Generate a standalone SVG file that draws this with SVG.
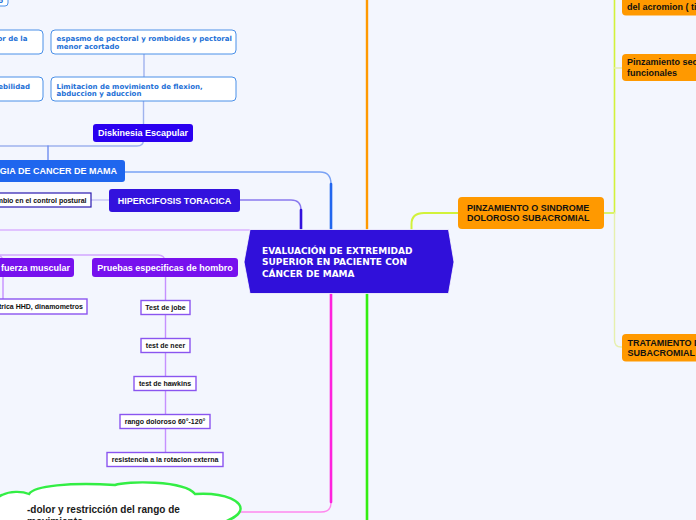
<svg xmlns="http://www.w3.org/2000/svg" width="696" height="520" viewBox="0 0 696 520">
<style>
.wt{font-family:"Liberation Sans",Arial,sans-serif;font-weight:bold;font-size:9px;fill:#ffffff}
.bt{font-family:"Liberation Sans",Arial,sans-serif;font-weight:bold;font-size:7px;fill:#111111}
.ot{font-family:"Liberation Sans",Arial,sans-serif;font-weight:bold;font-size:9px;fill:#111111}
.blt{font-family:"DejaVu Sans",Verdana,sans-serif;font-weight:bold;font-size:7px;fill:#1c6fd6}
.ct{font-family:"DejaVu Sans",Verdana,sans-serif;font-weight:bold;font-size:9px;fill:#ffffff}
.blbox{fill:#ffffff;stroke:#4a90e8;stroke-width:1}
.pbox{fill:#ffffff;stroke:#8a55f0;stroke-width:1.4}
.orbox{fill:#ff9900}
.c{fill:none;stroke-linecap:round}
</style>
<rect x="0" y="0" width="696" height="520" fill="#f3f6fe"/>

<g id="connectors">
  <!-- left-top blue subtree -->
  <path class="c" d="M144,54 V77" stroke="#9fb3ee" stroke-width="1.4"/>
  <path class="c" d="M143.5,101 V140 Q143.5,146 137,146 H-5" stroke="#9fb3ee" stroke-width="1.4"/>
  <path class="c" d="M48,146 V160" stroke="#6f8ff0" stroke-width="1.4"/>
  <!-- cancer de mama to center -->
  <path class="c" d="M125,172 H320 Q331,172 331,184 V229" stroke="#7aa2f5" stroke-width="1.4"/>
  <path class="c" d="M331,184 V229" stroke="#2266ee" stroke-width="2.6"/>
  <!-- hipercifosis to center -->
  <path class="c" d="M240,200 H291 Q301,200 301,210 V229" stroke="#8a7aee" stroke-width="1.4"/>
  <path class="c" d="M301,210 V229" stroke="#3311dd" stroke-width="2.6"/>
  <path class="c" d="M91,200 H109" stroke="#b3aef0" stroke-width="1.2"/>
  <!-- orange -->
  <path class="c" d="M367,-2 V229" stroke="#ff9900" stroke-width="2.4"/>
  <!-- yellow to pinzamiento -->
  <path class="c" d="M411.5,229 V224 Q411.5,213 424,213 H458" stroke="#d2f23a" stroke-width="2"/>
  <path class="c" d="M604,213 H614.5 V-2" stroke="#d2f23a" stroke-width="1.6"/>
  <path class="c" d="M614.5,213 V340 Q614.5,347 621,347 H623" stroke="#e6f0ad" stroke-width="1.4"/>
  <path class="c" d="M614.5,68 H623" stroke="#e6f0ad" stroke-width="1.4"/>
  <!-- left purple branch -->
  <path class="c" d="M250,230 H-5" stroke="#dcb2ff" stroke-width="1.4"/>
  <path class="c" d="M-5,255 H158 Q165,255 165,262" stroke="#d2a6ff" stroke-width="1.4"/>
  <path class="c" d="M-5,255 Q3,255 3,262" stroke="#d2a6ff" stroke-width="1.4"/>
  <path class="c" d="M3,277 V299" stroke="#c590ff" stroke-width="1.4"/>
  <path class="c" d="M165.5,277 V452" stroke="#c590ff" stroke-width="1.4"/>
  <!-- magenta -->
  <path class="c" d="M331,294 V503 Q331,512 321,512 H240" stroke="#ff88ee" stroke-width="1.4"/>
  <path class="c" d="M331,294 V502" stroke="#ff22dd" stroke-width="2.6"/>
  <!-- green -->
  <path class="c" d="M367,294 V522" stroke="#33ee11" stroke-width="2.6"/>
</g>

<g id="node-top-fragment">
  <rect x="-10" y="-10" width="18" height="16" rx="3" class="blbox"/>
  <text x="3" y="3" class="blt" text-anchor="end">o</text>
</g>
<g id="node-dolor">
  <rect x="-10" y="30" width="53" height="24" rx="4" class="blbox"/>
  <text x="27.5" y="41" class="blt" text-anchor="end">or de la</text>
</g>
<g id="node-espasmo">
  <rect x="51" y="30" width="185" height="24" rx="4" class="blbox"/>
  <text x="56.5" y="41" class="blt">espasmo de pectoral y romboides y pectoral</text>
  <text x="56.5" y="48.8" class="blt">menor acortado</text>
</g>
<g id="node-debilidad">
  <rect x="-10" y="77" width="53" height="24" rx="4" class="blbox"/>
  <text x="30" y="88.5" class="blt" text-anchor="end">ebilidad</text>
</g>
<g id="node-limitacion">
  <rect x="51" y="77" width="185" height="24" rx="4" class="blbox"/>
  <text x="56.5" y="88.5" class="blt">Limitacion de movimiento de flexion,</text>
  <text x="56.5" y="96.3" class="blt">abduccion y aduccion</text>
</g>
<g id="node-diskinesia">
  <rect x="93" y="124" width="100" height="18" rx="3" fill="#2a00f0"/>
  <text x="143" y="136.3" class="wt" text-anchor="middle">Diskinesia Escapular</text>
</g>
<g id="node-cancer">
  <rect x="-10" y="160" width="135" height="22" rx="3" fill="#1f66ee"/>
  <text x="117" y="174.3" class="wt" text-anchor="end">GIA DE CANCER DE MAMA</text>
</g>
<g id="node-postural">
  <rect x="-10" y="193" width="101" height="14" fill="#ffffff" stroke="#2a1ab0" stroke-width="1.2"/>
  <text x="86.5" y="202.6" class="bt" text-anchor="end">mbio en el control postural</text>
</g>
<g id="node-hipercifosis">
  <rect x="109" y="189" width="131" height="23" rx="3" fill="#3312dd"/>
  <text x="174.5" y="203.5" class="wt" text-anchor="middle">HIPERCIFOSIS TORACICA</text>
</g>
<g id="node-fuerza">
  <rect x="-10" y="258" width="84" height="19" rx="3" fill="#7711ee"/>
  <text x="70" y="271" class="wt" text-anchor="end">fuerza muscular</text>
</g>
<g id="node-pruebas">
  <rect x="92" y="258" width="146" height="19" rx="3" fill="#7711ee"/>
  <text x="165" y="271" class="wt" text-anchor="middle">Pruebas especificas de hombro</text>
</g>
<g id="node-hhd">
  <rect x="-10" y="299" width="97" height="15" class="pbox"/>
  <text x="83" y="309" class="bt" text-anchor="end">trica HHD, dinamometros</text>
</g>
<g id="node-jobe">
  <rect x="141" y="300.5" width="49" height="14" class="pbox"/>
  <text x="165.5" y="310" class="bt" text-anchor="middle">Test de jobe</text>
</g>
<g id="node-neer">
  <rect x="141" y="338.5" width="49" height="14" class="pbox"/>
  <text x="165.5" y="348" class="bt" text-anchor="middle">test de neer</text>
</g>
<g id="node-hawkins">
  <rect x="134" y="376.5" width="62" height="14" class="pbox"/>
  <text x="165" y="386" class="bt" text-anchor="middle">test de hawkins</text>
</g>
<g id="node-rango">
  <rect x="120" y="414.5" width="90" height="14" class="pbox"/>
  <text x="165" y="424" class="bt" text-anchor="middle">rango doloroso 60°-120°</text>
</g>
<g id="node-resistencia">
  <rect x="107" y="452.5" width="116" height="14" class="pbox"/>
  <text x="165" y="462" class="bt" text-anchor="middle">resistencia a la rotacion externa</text>
</g>
<g id="node-cloud">
  <path d="M-12,520 C-8,506 -4,497 2,495 C10,491 22,491 29,494 C34,486 70,482 115,485 C126,481 184,480 195,494 C226,492 244,502 240,511 C238,516 232,519 222,523 L-12,523 Z" fill="#ffffff" stroke="#33ee44" stroke-width="2.4"/>
  <text x="27" y="513" font-family="Liberation Sans, Arial, sans-serif" font-weight="bold" font-size="10" fill="#1a1a1a">-dolor y restricción del rango de</text>
  <text x="27" y="525" font-family="Liberation Sans, Arial, sans-serif" font-weight="bold" font-size="10" fill="#1a1a1a">movimiento</text>
</g>
<g id="node-center">
  <polygon points="250,229.5 448.5,229.5 454,262 448.5,293.5 250,293.5 244,262" fill="#3010da" stroke="#ffffff" stroke-width="0.8"/>
  <text x="262" y="254" class="ct">EVALUACIÓN DE EXTREMIDAD</text>
  <text x="262" y="265.3" class="ct">SUPERIOR EN PACIENTE CON</text>
  <text x="262" y="276.6" class="ct">CÁNCER DE MAMA</text>
</g>
<g id="node-pinzamiento">
  <rect x="458" y="197" width="146" height="32" rx="4" class="orbox"/>
  <text x="467" y="210.5" class="ot">PINZAMIENTO O SINDROME</text>
  <text x="467" y="221" class="ot">DOLOROSO SUBACROMIAL</text>
</g>
<g id="node-acromion">
  <rect x="622" y="-12" width="90" height="27.5" rx="4" class="orbox"/>
  <text x="627" y="10" class="ot">del acromion ( tipo III)</text>
</g>
<g id="node-pinzamiento-sec">
  <rect x="622" y="54" width="90" height="27" rx="4" class="orbox"/>
  <text x="627" y="65" class="ot">Pinzamiento secundario a</text>
  <text x="627" y="75.5" class="ot">funcionales</text>
</g>
<g id="node-tratamiento">
  <rect x="622" y="334" width="90" height="27.5" rx="4" class="orbox"/>
  <text x="627.5" y="345.5" class="ot">TRATAMIENTO DEL</text>
  <text x="627.5" y="356" class="ot">SUBACROMIAL</text>
</g>
</svg>
